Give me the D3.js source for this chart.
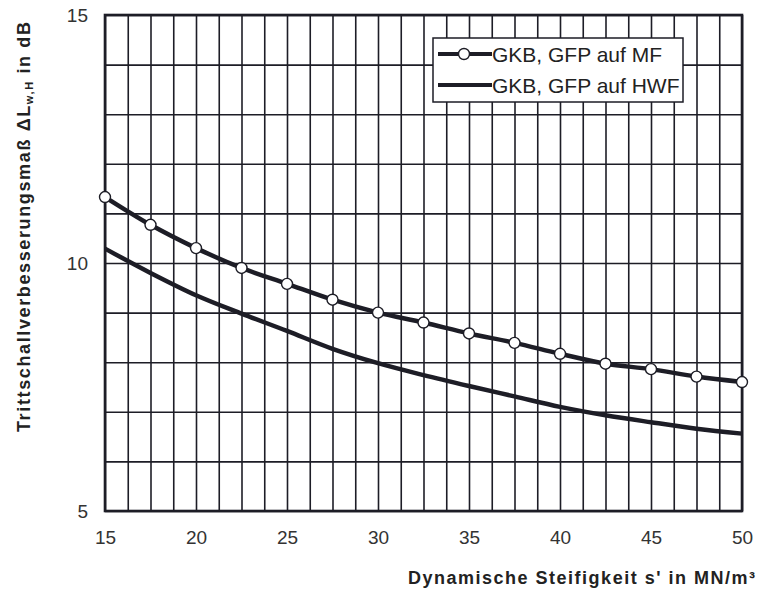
<!DOCTYPE html>
<html>
<head>
<meta charset="utf-8">
<script src="https://cdn.jsdelivr.net/npm/d3@7"></script>
<style>
  body { margin: 0; background: #fff; }
  svg { display: block; }
  .tick text { font-family: "Liberation Sans Narrow", "Liberation Sans", sans-serif; fill: #333; }
</style>
</head>
<body>
<div id="chart"><svg></svg></div>
<script>
const width = 762;
const height = 590;

// dynamic stiffness s' in MN/m³
const stiffness = [15, 17.5, 20, 22.5, 25, 27.5, 30, 32.5, 35, 37.5, 40, 42.5, 45, 47.5, 50];
// GKB, GFP auf MF (with circles)
const mfValues = [11.33, 10.77, 10.30, 9.90, 9.58, 9.26, 9.00, 8.80, 8.58, 8.39, 8.17, 7.97, 7.86, 7.71, 7.60];
// GKB, GFP auf HWF
const hwfValues = [10.29, 9.80, 9.35, 8.98, 8.63, 8.27, 7.98, 7.74, 7.52, 7.31, 7.10, 6.93, 6.79, 6.66, 6.56];

const xTicks = [15, 20, 25, 30, 35, 40, 45, 50];
const yTicks = [5, 10, 15];
const xGrid = [15, 16.25, 17.5, 18.75, 20, 21.25, 22.5, 23.75, 25, 26.25, 27.5, 28.75, 30, 31.25,
  32.5, 33.75, 35, 36.25, 37.5, 38.75, 40, 41.25, 42.5, 43.75, 45, 46.25, 47.5, 48.75, 50];
const yGrid = [5, 6, 7, 8, 9, 10, 11, 12, 13, 14, 15];
const legendLabels = ['GKB, GFP auf MF', 'GKB, GFP auf HWF'];

const margin = { top: 15, right: 20, bottom: 79, left: 105 };
const innerW = width - margin.left - margin.right;
const innerH = height - margin.top - margin.bottom;
const ink = '#1d1d26';

const svg = d3.select('#chart > svg')
  .attr('width', width)
  .attr('height', height);

const g = svg.append('g')
  .attr('transform', `translate(${margin.left},${margin.top})`);

const x = d3.scaleLinear().domain([15, 50]).range([0, innerW]);
const y = d3.scaleLinear().domain([5, 15]).range([innerH, 0]);

// grid
g.append('g')
  .attr('class', 'grid')
  .attr('transform', `translate(0,${innerH})`)
  .call(d3.axisBottom(x).tickValues(xGrid).tickSize(-innerH).tickFormat(''))
  .call(s => s.select('.domain').remove())
  .call(s => s.selectAll('line').attr('stroke', ink).attr('stroke-width', 1.6));

g.append('g')
  .attr('class', 'grid')
  .call(d3.axisLeft(y).tickValues(yGrid).tickSize(-innerW).tickFormat(''))
  .call(s => s.select('.domain').remove())
  .call(s => s.selectAll('line').attr('stroke', ink).attr('stroke-width', 1.6));

g.append('rect')
  .attr('width', innerW)
  .attr('height', innerH)
  .attr('fill', 'none')
  .attr('stroke', ink)
  .attr('stroke-width', 2.6);

// tick labels
g.append('g')
  .attr('transform', `translate(0,${innerH})`)
  .call(d3.axisBottom(x).tickValues(xTicks).tickSize(0).tickPadding(20))
  .call(s => s.select('.domain').remove())
  .call(s => s.selectAll('text').attr('font-size', 19));

g.append('g')
  .call(d3.axisLeft(y).tickValues(yTicks).tickSize(0).tickPadding(17))
  .call(s => s.select('.domain').remove())
  .call(s => s.selectAll('text').attr('font-size', 19));

// lines
const line = d3.line()
  .x((d, i) => x(stiffness[i]))
  .y(d => y(d))
  .curve(d3.curveMonotoneX);

g.append('path')
  .datum(hwfValues)
  .attr('fill', 'none')
  .attr('stroke', ink)
  .attr('stroke-width', 4.5)
  .attr('d', line);

g.append('path')
  .datum(mfValues)
  .attr('fill', 'none')
  .attr('stroke', ink)
  .attr('stroke-width', 4.5)
  .attr('d', line);

g.selectAll('circle.mf')
  .data(mfValues)
  .join('circle')
  .attr('class', 'mf')
  .attr('cx', (d, i) => x(stiffness[i]))
  .attr('cy', d => y(d))
  .attr('r', 5.5)
  .attr('fill', '#fff')
  .attr('stroke', ink)
  .attr('stroke-width', 1.4);

// legend
const legend = svg.append('g').attr('transform', 'translate(433,38)');
legend.append('rect')
  .attr('width', 250)
  .attr('height', 64)
  .attr('fill', '#fff')
  .attr('stroke', ink)
  .attr('stroke-width', 1.5);

legendLabels.forEach((label, i) => {
  const row = legend.append('g').attr('transform', `translate(0,${16 + i * 31})`);
  row.append('line')
    .attr('x1', 5).attr('x2', 59)
    .attr('stroke', ink)
    .attr('stroke-width', 4);
  if (i === 0) {
    row.append('circle')
      .attr('cx', 31).attr('r', 5.5)
      .attr('fill', '#fff').attr('stroke', ink).attr('stroke-width', 1.4);
  }
  row.append('text')
    .attr('x', 59)
    .attr('dy', '0.36em')
    .attr('font-family', '"Liberation Sans", Arial, sans-serif')
    .attr('font-size', 21)
    .attr('fill', '#222')
    .text(label);
});

// axis titles
svg.append('text')
  .attr('x', 408)
  .attr('y', 584)
  .attr('textLength', 347)
  .attr('lengthAdjust', 'spacing')
  .attr('font-family', '"Liberation Sans Narrow", "Liberation Sans", sans-serif')
  .attr('font-weight', 'bold')
  .attr('font-size', 18)
  .attr('fill', '#222')
  .text("Dynamische Steifigkeit s' in MN/m³");

const yTitle = svg.append('text')
  .attr('transform', 'translate(30,432) rotate(-90)')
  .attr('textLength', 410)
  .attr('lengthAdjust', 'spacing')
  .attr('font-family', '"Liberation Sans Narrow", "Liberation Sans", sans-serif')
  .attr('font-weight', 'bold')
  .attr('font-size', 18)
  .attr('fill', '#222');
yTitle.append('tspan').text('Trittschallverbesserungsmaß ΔL');
yTitle.append('tspan').attr('font-size', 11).attr('dy', 3).text('w,H');
yTitle.append('tspan').attr('dy', -3).text(' in dB');
</script>
</body>
</html>
